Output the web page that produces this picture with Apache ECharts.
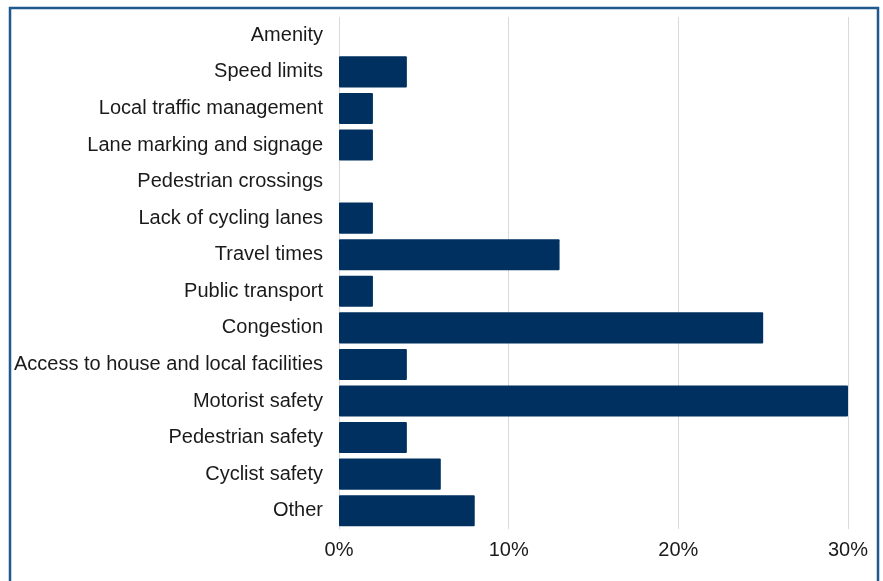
<!DOCTYPE html>
<html>
<head>
<meta charset="utf-8">
<script src="https://cdn.jsdelivr.net/npm/echarts@6/dist/echarts.min.js"></script>
<style>
  html, body { margin: 0; padding: 0; background: #fff; }
  #chart { width: 883px; height: 581px; }
</style>
</head>
<body>
<div id="chart"></div>
<script>
// categories top to bottom
const categories = [
  'Amenity', 'Speed limits', 'Local traffic management', 'Lane marking and signage',
  'Pedestrian crossings', 'Lack of cycling lanes', 'Travel times', 'Public transport',
  'Congestion', 'Access to house and local facilities', 'Motorist safety',
  'Pedestrian safety', 'Cyclist safety', 'Other'
];
const values = [0, 4, 2, 2, 0, 2, 13, 2, 25, 4, 30, 4, 6, 8];
const xTicks = [0, 10, 20, 30];

const chart = echarts.init(document.getElementById('chart'));
const option = {
  animation: false,
  graphic: [{
    type: 'rect',
    shape: { x: 10, y: 8, width: 868, height: 600 },
    style: { fill: 'none', stroke: '#1f5a8e', lineWidth: 2.5 },
    silent: true
  }],
  grid: { left: 339, right: 35, top: 17, bottom: 52 },
  xAxis: {
    type: 'value',
    min: xTicks[0],
    max: xTicks[xTicks.length - 1],
    interval: 10,
    axisLine: { show: false },
    axisTick: { show: false },
    axisLabel: {
      formatter: v => v + '%',
      color: '#1a1a1a',
      fontSize: 20,
      fontFamily: 'Liberation Sans, Arial, sans-serif',
      margin: 11
    },
    splitLine: { lineStyle: { color: '#d9d9d9', width: 1 } }
  },
  yAxis: {
    type: 'category',
    inverse: true,
    data: categories,
    axisLine: { show: false },
    axisTick: { show: false },
    axisLabel: {
      color: '#1a1a1a',
      fontSize: 20,
      fontFamily: 'Liberation Sans, Arial, sans-serif',
      margin: 16
    }
  },
  series: [{
    type: 'bar',
    data: values,
    barCategoryGap: '15%',
    itemStyle: { color: '#00305f', borderRadius: 1 }
  }]
};
chart.setOption(option);
window.addEventListener('resize', () => chart.resize());
</script>
</body>
</html>
